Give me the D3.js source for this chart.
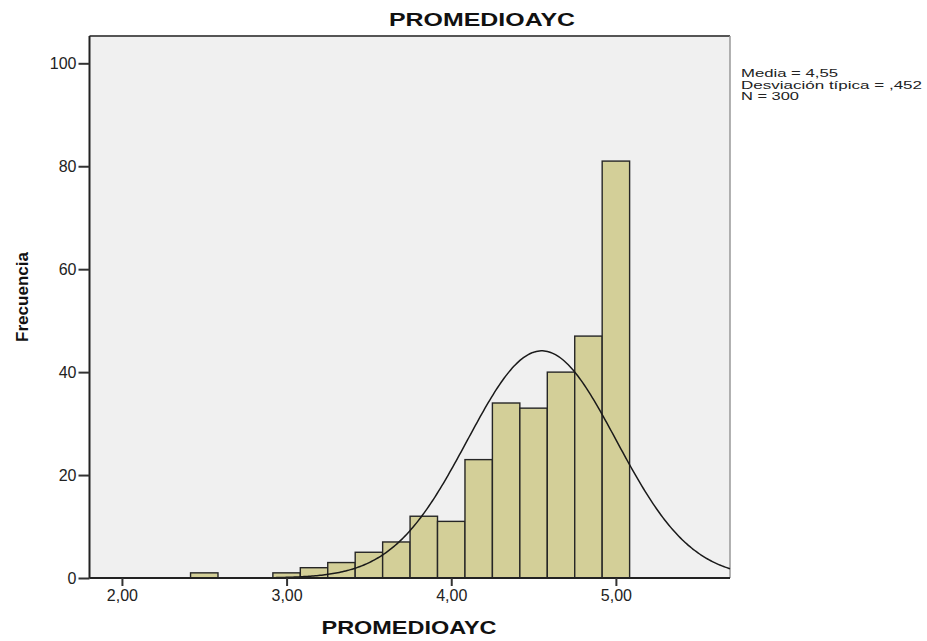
<!DOCTYPE html>
<html lang="en">
<head>
<meta charset="UTF-8">
<style>
    body { margin: 0; background: #fff; font-family: "Liberation Sans", Arial, sans-serif; }
    .bar { fill: #d3cf98; stroke: #262626; stroke-width: 1.4; }
    .tick text { font-size: 16px; fill: #222; font-family: "Liberation Sans", Arial, sans-serif; }
</style>
<script src="https://d3js.org/d3.v7.min.js"></script>
</head>
<body>
<svg id="chart" width="927" height="641"></svg>
<script>
// bin centres (width 1/6) and frequencies
var binCenters = [2.5, 3.0, 3.1667, 3.3333, 3.5, 3.6667, 3.8333, 4.0, 4.1667, 4.3333, 4.5, 4.6667, 4.8333, 5.0];
var counts = [1, 1, 2, 3, 5, 7, 12, 11, 23, 34, 33, 40, 47, 81];
var binWidth = 1 / 6;
var xTicks = [2, 3, 4, 5];
var yTicks = [0, 20, 40, 60, 80, 100];
var stats = ["Media = 4,55", "Desviación típica = ,452", "N = 300"];
var statWidths = [97, 181, 58];
var mean = 4.55, sd = 0.452, n = 300;

var m = {left: 89.5, right: 730, top: 36, bottom: 578};
var svg = d3.select("#chart");

var x = d3.scaleLinear().domain([1.803, 5.693]).range([m.left, m.right]);
var y = d3.scaleLinear().domain([0, 100]).range([m.bottom, 63.3]);

svg.append("rect")
    .attr("x", m.left).attr("y", m.top)
    .attr("width", m.right - m.left).attr("height", m.bottom - m.top)
    .attr("fill", "#f0f0f0").attr("stroke", "none");

// frame
svg.append("line").attr("x1", m.left).attr("x2", m.right).attr("y1", m.top).attr("y2", m.top)
    .attr("stroke", "#555").attr("stroke-width", 2);
svg.append("line").attr("x1", m.right).attr("x2", m.right).attr("y1", m.top).attr("y2", m.bottom)
    .attr("stroke", "#999").attr("stroke-width", 1.5);

svg.selectAll(".bar")
    .data(binCenters)
    .enter().append("rect")
    .attr("class", "bar")
    .attr("x", function(d) { return x(d - binWidth / 2); })
    .attr("width", function(d) { return x(d + binWidth / 2) - x(d - binWidth / 2); })
    .attr("y", function(d, i) { return y(counts[i]); })
    .attr("height", function(d, i) { return y(0) - y(counts[i]); });

// normal curve
var pts = d3.range(0, 401).map(function(i) {
    var v = 1.803 + (5.693 - 1.803) * i / 400;
    var f = n * binWidth / (sd * Math.sqrt(2 * Math.PI)) * Math.exp(-0.5 * Math.pow((v - mean) / sd, 2));
    return [v, f];
});
svg.append("path")
    .datum(pts)
    .attr("fill", "none")
    .attr("stroke", "#1a1a1a")
    .attr("stroke-width", 1.5)
    .attr("d", d3.line().x(function(d) { return x(d[0]); }).y(function(d) { return y(d[1]); }));

var xAxis = svg.append("g")
    .attr("transform", "translate(0," + m.bottom + ")")
    .call(d3.axisBottom(x).tickValues(xTicks).tickSize(8).tickPadding(4)
        .tickFormat(function(d) { return d3.format(".2f")(d).replace(".", ","); }));
xAxis.select(".domain").attr("stroke", "#222").attr("stroke-width", 2)
    .attr("d", "M" + m.left + ",0H" + m.right);
xAxis.selectAll(".tick line").attr("stroke", "#333").attr("stroke-width", 2);

var yAxis = svg.append("g")
    .attr("transform", "translate(" + m.left + ",0)")
    .call(d3.axisLeft(y).tickValues(yTicks).tickSize(11).tickPadding(2));
yAxis.select(".domain").attr("stroke", "#222").attr("stroke-width", 2)
    .attr("d", "M0," + m.top + "V" + m.bottom);
yAxis.selectAll(".tick line").attr("stroke", "#333").attr("stroke-width", 2);

svg.append("text")
    .attr("x", 482).attr("y", 26)
    .attr("text-anchor", "middle")
    .attr("textLength", 186).attr("lengthAdjust", "spacingAndGlyphs")
    .style("font-size", "18.5px").style("font-weight", "bold").style("fill", "#111")
    .text("PROMEDIOAYC");

svg.append("text")
    .attr("x", 409).attr("y", 634)
    .attr("text-anchor", "middle")
    .attr("textLength", 175).attr("lengthAdjust", "spacingAndGlyphs")
    .style("font-size", "19px").style("font-weight", "bold").style("fill", "#111")
    .text("PROMEDIOAYC");

svg.append("text")
    .attr("transform", "translate(28,297) rotate(-90)")
    .attr("text-anchor", "middle")
    .attr("textLength", 90).attr("lengthAdjust", "spacingAndGlyphs")
    .style("font-size", "17px").style("font-weight", "bold").style("fill", "#111")
    .text("Frecuencia");

svg.selectAll(".stat")
    .data(stats)
    .enter().append("text")
    .attr("class", "stat")
    .attr("x", 741)
    .attr("y", function(d, i) { return 77 + i * 11.5; })
    .attr("textLength", function(d, i) { return statWidths[i]; })
    .attr("lengthAdjust", "spacingAndGlyphs")
    .style("font-size", "11.5px").style("fill", "#222")
    .text(function(d) { return d; });
</script>
</body>
</html>
